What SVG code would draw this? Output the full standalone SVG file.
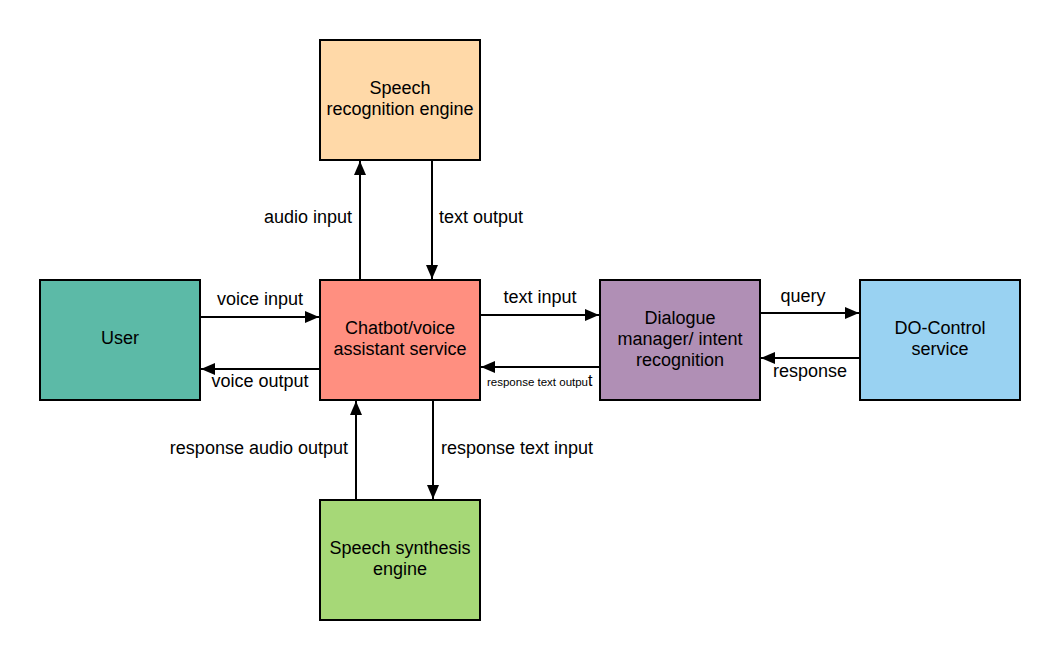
<svg xmlns="http://www.w3.org/2000/svg" width="1060" height="660" viewBox="0 0 1060 660">
<style>
.box{stroke:#000;stroke-width:2}
.t{font-family:"Liberation Sans",Arial,sans-serif;font-size:18px;fill:#000}
.c{text-anchor:middle}
.e{text-anchor:end}
.ln{stroke:#000;stroke-width:2;fill:none;marker-end:url(#ah)}
</style>
<defs>
<marker id="ah" viewBox="0 0 14 12" refX="14" refY="6" markerWidth="14" markerHeight="12" markerUnits="userSpaceOnUse" orient="auto">
<path d="M0,0 L14,6 L0,12 Z" fill="#000"/>
</marker>
</defs>
<rect width="1060" height="660" fill="#fff"/>
<g id="speech-recognition">
<rect class="box" x="320" y="40" width="160" height="120" fill="#FFD9A8"/>
<text class="t c" x="400" y="94">Speech</text>
<text class="t c" x="400" y="115">recognition engine</text>
</g>
<g id="user">
<rect class="box" x="40" y="280" width="160" height="120" fill="#5CBAA7"/>
<text class="t c" x="120" y="344">User</text>
</g>
<g id="chatbot">
<rect class="box" x="320" y="280" width="160" height="120" fill="#FF8F80"/>
<text class="t c" x="400" y="334">Chatbot/voice</text>
<text class="t c" x="400" y="355">assistant service</text>
</g>
<g id="dialogue">
<rect class="box" x="600" y="280" width="160" height="120" fill="#B08FB5"/>
<text class="t c" x="680" y="324">Dialogue</text>
<text class="t c" x="680" y="345">manager/ intent</text>
<text class="t c" x="680" y="366">recognition</text>
</g>
<g id="do-control">
<rect class="box" x="860" y="280" width="160" height="120" fill="#99D2F2"/>
<text class="t c" x="940" y="334">DO-Control</text>
<text class="t c" x="940" y="355">service</text>
</g>
<g id="speech-synthesis">
<rect class="box" x="320" y="500" width="160" height="120" fill="#A6D877"/>
<text class="t c" x="400" y="554">Speech synthesis</text>
<text class="t c" x="400" y="575">engine</text>
</g>
<g id="connectors">
<path class="ln" d="M360,280 L360,161"/>
<path class="ln" d="M432,160 L432,279"/>
<path class="ln" d="M200,317 L319,317"/>
<path class="ln" d="M320,369 L201,369"/>
<path class="ln" d="M480,315 L599,315"/>
<path class="ln" d="M600,367 L481,367"/>
<path class="ln" d="M760,313 L859,313"/>
<path class="ln" d="M860,358 L761,358"/>
<path class="ln" d="M356,500 L356,401"/>
<path class="ln" d="M433,400 L433,499"/>
</g>
<g id="labels">
<text class="t e" x="352" y="223">audio input</text>
<text class="t" x="439" y="223">text output</text>
<text class="t c" x="260" y="305">voice input</text>
<text class="t c" x="260" y="387">voice output</text>
<text class="t c" x="540" y="303">text input</text>
<text class="t" x="487" y="386" style="font-size:11.5px">response text outpu<tspan style="font-size:16px">t</tspan></text>
<text class="t c" x="803" y="302">query</text>
<text class="t c" x="810" y="377">response</text>
<text class="t e" x="348" y="454">response audio output</text>
<text class="t" x="441" y="454">response text input</text>
</g>
</svg>
